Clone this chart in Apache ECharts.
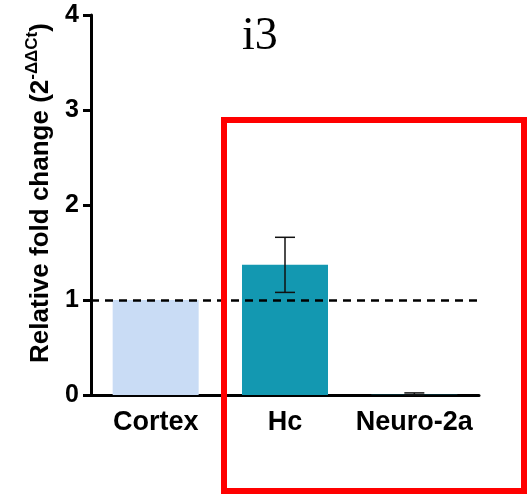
<!DOCTYPE html>
<html>
<head>
<meta charset="utf-8">
<script src="https://cdn.jsdelivr.net/npm/echarts@6/dist/echarts.min.js"></script>
<style>html,body{margin:0;padding:0;background:#fff}#c{width:531px;height:494px}</style>
</head>
<body>
<div id="c"></div>
<script>
const categories = ['Cortex', 'Hc', 'Neuro-2a'];
const meanValues = [1.0, 1.37, 0.002];
const errorValues = [0, 0.29, 0.02];
const barColors = ['#c9dcf5', '#1398b1', '#1398b1'];
const referenceLevel = 1;
const yTicks = [0, 1, 2, 3, 4];
const titleText = 'i3';

const chart = echarts.init(document.getElementById('c'), null, {renderer: 'canvas'});
const FONT = '"Liberation Sans", Arial, sans-serif';

const errData = categories.map((c, i) => [i, meanValues[i] - errorValues[i], meanValues[i] + errorValues[i], errorValues[i]]);

chart.setOption({
  animation: false,
  title: {
    text: titleText,
    left: 237, top: 9,
    textStyle: {fontFamily: '"Liberation Serif", "Times New Roman", serif', fontWeight: 'normal', fontSize: 46, color: '#000'}
  },
  grid: {left: 91, right: 52, top: 15, bottom: 99, containLabel: false},
  xAxis: {
    type: 'category',
    data: categories,
    boundaryGap: true,
    axisLine: {lineStyle: {color: '#000', width: 3}},
    axisTick: {alignWithLabel: true, length: 8, lineStyle: {color: '#000', width: 3}},
    axisLabel: {interval: 0, margin: 14, color: '#000', fontFamily: FONT, fontWeight: 'bold', fontSize: 27}
  },
  yAxis: {
    type: 'value',
    min: yTicks[0], max: yTicks[yTicks.length - 1], interval: 1,
    name: '{m|Relative fold change (2}{s|-ΔΔCt}{m|)}',
    nameLocation: 'middle',
    nameGap: 33,
    nameTextStyle: {
      color: '#000',
      padding: [0, 0, 0, 24],
      rich: {
        m: {fontFamily: FONT, fontWeight: 'bold', fontSize: 26, lineHeight: 34, color: '#000'},
        s: {fontFamily: FONT, fontWeight: 'bold', fontSize: 17, lineHeight: 17, color: '#000', verticalAlign: 'top'}
      }
    },
    axisLine: {show: true, lineStyle: {color: '#000', width: 3}},
    axisTick: {show: true, length: 8, lineStyle: {color: '#000', width: 3}},
    axisLabel: {margin: 12, color: '#000', fontFamily: FONT, fontWeight: 'bold', fontSize: 25},
    splitLine: {show: false}
  },
  series: [
    {
      type: 'line', data: [], z: 1, silent: true,
      markLine: {
        silent: true, symbol: 'none', label: {show: false},
        lineStyle: {color: '#000', width: 2.5, type: [8, 6]},
        data: [{yAxis: referenceLevel}]
      }
    },
    {
      type: 'bar', z: 3,
      barWidth: 86,
      data: meanValues.map((v, i) => ({value: v, itemStyle: {color: barColors[i]}}))
    },
    {
      type: 'custom', z: 4,
      data: errData,
      renderItem: function (params, api) {
        const i = api.value(0);
        if (api.value(3) <= 0) return null;
        const lo = api.coord([i, Math.max(0, api.value(1))]);
        const hi = api.coord([i, api.value(2)]);
        const hw = 10;
        const st = {stroke: '#111', lineWidth: 1.5};
        return {
          type: 'group',
          children: [
            {type: 'line', shape: {x1: lo[0], y1: lo[1], x2: hi[0], y2: hi[1]}, style: st},
            {type: 'line', shape: {x1: hi[0] - hw, y1: hi[1], x2: hi[0] + hw, y2: hi[1]}, style: st},
            {type: 'line', shape: {x1: lo[0] - hw, y1: lo[1], x2: lo[0] + hw, y2: lo[1]}, style: st}
          ]
        };
      }
    }
  ],
  graphic: [
    {
      type: 'rect', z: 100,
      shape: {x: 224, y: 120, width: 300, height: 371},
      style: {fill: 'none', stroke: '#ff0000', lineWidth: 6}
    }
  ]
});
</script>
</body>
</html>
